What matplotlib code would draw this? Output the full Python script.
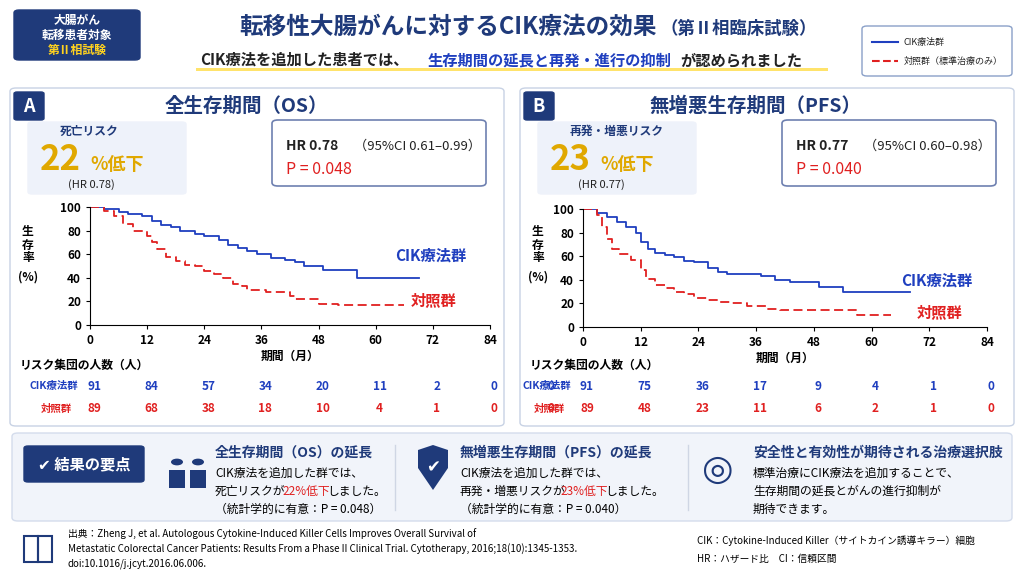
import matplotlib
matplotlib.use("Agg")
import matplotlib.pyplot as plt
from matplotlib.patches import FancyBboxPatch, Rectangle, Circle, Polygon
import numpy as np

plt.rcParams['font.family'] = ['Noto Sans CJK JP', 'DejaVu Sans']

NAVY = "#1f3a7a"
BLUE = "#1f3fbf"
RED = "#e02020"
GOLD = "#e0a800"

# --- data (months, survival %) ---
os_cik_t = [0, 3, 6, 8, 11, 13, 15, 17, 19, 22, 24, 27, 29, 31, 33, 35, 38, 41, 43, 45, 49, 50, 56, 69]
os_cik_s = [100, 98, 96, 94, 92, 88, 85, 83, 80, 77, 75, 72, 68, 65, 63, 60, 57, 55, 53, 50, 47, 47, 40, 40]
os_ctl_t = [0, 3, 5, 7, 9, 12, 13, 14, 16, 18, 20, 22, 24, 26, 28, 30, 32, 33, 37, 42, 43, 48, 52, 66]
os_ctl_s = [100, 97, 92, 86, 80, 75, 70, 64, 58, 54, 51, 50, 46, 43, 40, 35, 33, 30, 28, 25, 22, 18, 17, 17]
pfs_cik_t = [0, 3, 5, 7, 9, 11, 12, 13.5, 15, 17, 19, 21, 23, 26, 28, 30, 31, 37, 40, 43, 49, 54, 68]
pfs_cik_s = [100, 97, 93, 89, 85, 80, 72, 66, 63, 61, 59, 56, 55, 50, 47, 45, 45, 43, 40, 38, 34, 30, 30]
pfs_ctl_t = [0, 3, 4, 5, 6, 7.5, 10, 12, 13, 15, 17, 19, 21, 23, 26, 28, 31, 34, 38, 41, 43, 57, 64]
pfs_ctl_s = [100, 95, 85, 75, 66, 62, 57, 48, 41, 36, 33, 30, 28, 25, 23, 21, 20, 18, 15, 14, 14, 10, 10]
xticks = [0, 12, 24, 36, 48, 60, 72, 84]
os_risk_cik = [91, 84, 57, 34, 20, 11, 2, 0, 0]
os_risk_ctl = [89, 68, 38, 18, 10, 4, 1, 0, 0]
pfs_risk_cik = [91, 75, 36, 17, 9, 4, 1, 0]
pfs_risk_ctl = [89, 48, 23, 11, 6, 2, 1, 0]

W, H = 1024, 576
fig = plt.figure(figsize=(10.24, 5.76), dpi=100)
fig.patch.set_facecolor("white")

def fx(x): return x / W
def fy(y): return 1 - y / H

def T(x, y, s, **kw):
    kw.setdefault('ha', 'left'); kw.setdefault('va', 'center')
    fig.text(fx(x), fy(y), s, **kw)

def box(x, y, w, h, fc, ec=None, lw=1, r=6, z=0):
    p = FancyBboxPatch((fx(x), fy(y + h)), fx(w), h / H,
                       boxstyle=f"round,pad=0,rounding_size={r/W}",
                       transform=fig.transFigure, fc=fc, ec=ec or fc, lw=lw, zorder=z)
    fig.add_artist(p)

def add(p):
    p.set_transform(fig.transFigure)
    fig.add_artist(p)

# header
box(14, 10, 126, 50, NAVY, r=5)
T(77, 20, "大腸がん", color="white", fontsize=8.5, weight="bold", ha="center")
T(77, 35, "転移患者対象", color="white", fontsize=8.5, weight="bold", ha="center")
T(77, 50, "第Ⅱ相試験", color="#ffd21f", fontsize=8.5, weight="bold", ha="center")
T(657, 27, "転移性大腸がんに対するCIK療法の効果", color=NAVY, fontsize=17, weight="bold", ha="right")
T(660, 29, "（第Ⅱ相臨床試験）", color=NAVY, fontsize=12.5, weight="bold")
T(200, 60, "CIK療法を追加した患者では、", color="#222", fontsize=11, weight="bold")
T(428, 60, "生存期間の延長と再発・進行の抑制", color=BLUE, fontsize=11, weight="bold")
T(680, 60, "が認められました", color="#222", fontsize=11, weight="bold")
add(Rectangle((fx(196), fy(71)), fx(632), 3 / H, fc="#ffe36b", ec="none"))
box(862, 26, 150, 50, "white", ec="#8aa0c8", lw=1, r=5)
fig.add_artist(plt.Line2D([fx(872), fx(898)], [fy(42)] * 2, color=BLUE, lw=1.5, transform=fig.transFigure))
fig.add_artist(plt.Line2D([fx(872), fx(898)], [fy(61)] * 2, color=RED, lw=1.5, ls="--", transform=fig.transFigure))
T(904, 42, "CIK療法群", fontsize=6.5, color="#222")
T(904, 61, "対照群（標準治療のみ）", fontsize=6.5, color="#222")

def panel(x0, letter, title, risk_lbl, big, hr_small, hr, ci, p_text,
          ax_rect, cik_t, cik_s, ctl_t, ctl_s, lbl_pos, risk_cik, risk_ctl):
    box(x0, 88, 494, 338, "white", ec="#c8d2e4", lw=1, r=6)
    box(x0 + 4, 92, 30, 28, NAVY, r=3, z=2)
    T(x0 + 19, 106, letter, color="white", fontsize=13, weight="bold", ha="center", zorder=3)
    T(x0 + 236, 106, title, color=NAVY, fontsize=14, weight="bold", ha="center")
    box(x0 + 18, 122, 158, 72, "#eef2fa", r=4)
    T(x0 + 50, 131, risk_lbl, fontsize=8.5, color=NAVY, weight="bold")
    T(x0 + 30, 160, big, fontsize=25, color=GOLD, weight="bold")
    T(x0 + 80, 164, "%低下", fontsize=13, color=GOLD, weight="bold")
    T(x0 + 58, 185, hr_small, fontsize=8, color="#222")
    box(x0 + 262, 120, 214, 66, "white", ec="#6e80b0", lw=1.2, r=6)
    T(x0 + 276, 146, hr, fontsize=10, color="#222", weight="bold")
    T(x0 + 344, 146, ci, fontsize=9.5, color="#222")
    T(x0 + 276, 170, p_text, fontsize=11.5, color=RED)
    ax = fig.add_axes(ax_rect)
    ax.step(cik_t, cik_s, where="post", color=BLUE, lw=1.3)
    ax.step(ctl_t, ctl_s, where="post", color=RED, lw=1.3, ls=(0, (5, 2.5)))
    ax.set_xlim(0, 84); ax.set_ylim(0, 100)
    ax.set_xticks(xticks); ax.set_yticks(range(0, 101, 20))
    ax.tick_params(labelsize=8.5, length=3)
    for lab in ax.get_xticklabels() + ax.get_yticklabels():
        lab.set_fontweight("bold")
    ax.spines[['top', 'right']].set_visible(False)
    ax.set_xlabel("期間（月）", fontsize=8.5, weight="bold", labelpad=2)
    ax.text(lbl_pos[0], lbl_pos[1], "CIK療法群", color=BLUE, fontsize=11, weight="bold", ha="right")
    ax.text(lbl_pos[0] - 2, lbl_pos[2], "対照群", color=RED, fontsize=11, weight="bold", ha="right")
    T(x0 + 18, 245, "生\n存\n率", fontsize=8.5, weight="bold", ha="center", linespacing=1.0)
    T(x0 + 18, 277, "(%)", fontsize=8.5, weight="bold", ha="center")
    T(x0 + 10, 365, "リスク集団の人数（人）", fontsize=8.5, weight="bold")
    left = ax_rect[0] * W
    for i, (a, b) in enumerate(zip(risk_cik, risk_ctl)):
        xp = left + 4 + i * 12 / 84 * ax_rect[2] * W
        T(xp, 386, str(a), fontsize=8.5, color=BLUE, weight="bold", ha="center")
        T(xp, 409, str(b), fontsize=8.5, color=RED, weight="bold", ha="center")
    T(left - 12, 386, "CIK療法群", fontsize=7.5, color=BLUE, weight="bold", ha="right")
    T(left - 18, 409, "対照群", fontsize=7.5, color=RED, weight="bold", ha="right")
    return ax

panel(10, "A", "全生存期間（OS）", "死亡リスク", "22", "(HR 0.78)",
      "HR 0.78", "（95%CI 0.61–0.99）", "P = 0.048",
      [fx(90), fy(325), fx(400), 118 / H], os_cik_t, os_cik_s, os_ctl_t, os_ctl_s,
      (79, 55, 17), os_risk_cik, os_risk_ctl)
panel(520, "B", "無増悪生存期間（PFS）", "再発・増悪リスク", "23", "(HR 0.77)",
      "HR 0.77", "（95%CI 0.60–0.98）", "P = 0.040",
      [fx(583), fy(327), fx(404), 118 / H], pfs_cik_t, pfs_cik_s, pfs_ctl_t, pfs_ctl_s,
      (81, 35, 8), pfs_risk_cik, pfs_risk_ctl)

# bottom summary
box(12, 433, 1000, 88, "#f1f4fa", ec="#d4dcec", r=6)
box(24, 446, 120, 36, NAVY, r=4)
T(84, 464, "✔ 結果の要点", color="white", fontsize=11, weight="bold", ha="center",
  family=["Noto Sans CJK JP", "DejaVu Sans"])
T(215, 453, "全生存期間（OS）の延長", color=NAVY, fontsize=10, weight="bold")
T(215, 473, "CIK療法を追加した群では、", fontsize=8.5)
T(215, 491, "死亡リスクが", fontsize=8.5)
T(282, 491, "22%低下", fontsize=8.5, color=RED)
T(327, 491, "しました。", fontsize=8.5)
T(215, 509, "（統計学的に有意：P = 0.048）", fontsize=8.5)
T(460, 453, "無増悪生存期間（PFS）の延長", color=NAVY, fontsize=10, weight="bold")
T(460, 473, "CIK療法を追加した群では、", fontsize=8.5)
T(460, 491, "再発・増悪リスクが", fontsize=8.5)
T(560, 491, "23%低下", fontsize=8.5, color=RED)
T(605, 491, "しました。", fontsize=8.5)
T(460, 509, "（統計学的に有意：P = 0.040）", fontsize=8.5)
T(753, 453, "安全性と有効性が期待される治療選択肢", color=NAVY, fontsize=10, weight="bold")
T(753, 473, "標準治療にCIK療法を追加することで、", fontsize=8.5)
T(753, 491, "生存期間の延長とがんの進行抑制が", fontsize=8.5)
T(753, 509, "期待できます。", fontsize=8.5)
for xs in (395, 688):
    fig.add_artist(plt.Line2D([fx(xs)] * 2, [fy(445), fy(510)], color="#cfd6e4", lw=1, transform=fig.transFigure))

# simple icons
for cx in (177, 198):
    add(Circle((fx(cx), fy(462)), 6 / W, fc=NAVY, ec="none"))
    add(Rectangle((fx(cx - 8), fy(488)), fx(16), 18 / H, fc=NAVY, ec="none"))
add(Polygon([(fx(418), fy(450)), (fx(433), fy(445)), (fx(448), fy(450)), (fx(448), fy(468)),
             (fx(433), fy(490)), (fx(418), fy(468))], fc=NAVY, ec="none"))
T(433, 467, "✔", color="white", fontsize=12, ha="center", family=["DejaVu Sans"])
T(718, 470, "◎", fontsize=26, color=NAVY, ha="center", family=["DejaVu Sans"])
add(Rectangle((fx(24), fy(562)), fx(14), 26 / H, fc="none", ec=NAVY, lw=1.5))
add(Rectangle((fx(38), fy(562)), fx(14), 26 / H, fc="none", ec=NAVY, lw=1.5))

T(68, 534, "出典：Zheng J, et al. Autologous Cytokine-Induced Killer Cells Improves Overall Survival of", fontsize=7)
T(68, 549, "Metastatic Colorectal Cancer Patients: Results From a Phase II Clinical Trial. Cytotherapy, 2016;18(10):1345-1353.", fontsize=7)
T(68, 564, "doi:10.1016/j.jcyt.2016.06.006.", fontsize=7)
T(697, 541, "CIK：Cytokine-Induced Killer（サイトカイン誘導キラー）細胞", fontsize=7)
T(697, 559, "HR：ハザード比　CI：信頼区間", fontsize=7)

fig.savefig("out.png", dpi=100)
